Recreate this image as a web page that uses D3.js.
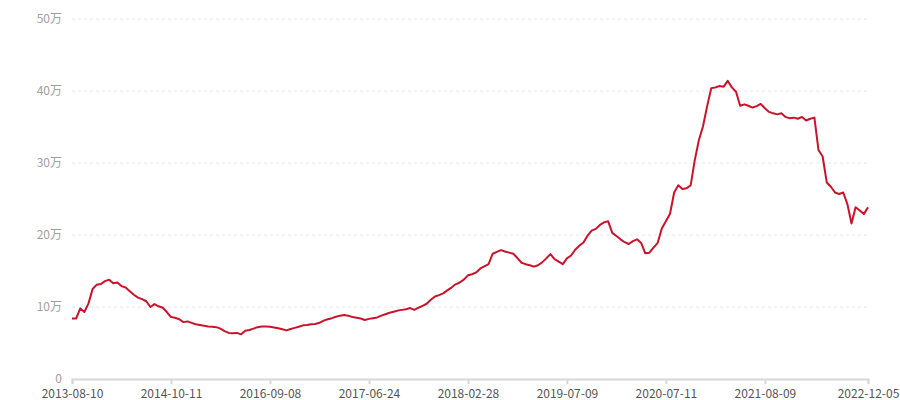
<!DOCTYPE html>
<meta charset="utf-8">
<style>
body { margin: 0; background: #fff; }
svg text { font-family: "Microsoft YaHei", "Noto Sans CJK SC", sans-serif; font-size: 12px; }
.grid line { stroke: #e6e6e6; stroke-dasharray: 3,3; }
</style>
<body>
<div id="chart"></div>
<script src="https://d3js.org/d3.v7.min.js"></script>
<script>
// values in units of 万
var values = [
  8.4, 8.4, 9.8, 9.3, 10.5, 12.5, 13.1, 13.2, 13.6, 13.8,
  13.3, 13.4, 12.9, 12.7, 12.2, 11.7, 11.3, 11.1, 10.8, 10.0,
  10.4, 10.1, 9.9, 9.3, 8.6, 8.5, 8.3, 7.9, 8.0, 7.8,
  7.6, 7.5, 7.4, 7.3, 7.25, 7.2, 7.0, 6.65, 6.4, 6.35,
  6.4, 6.2, 6.7, 6.8, 7.0, 7.2, 7.3, 7.3, 7.25, 7.15,
  7.05, 6.9, 6.75, 6.95, 7.1, 7.25, 7.45, 7.5, 7.6, 7.65,
  7.8, 8.1, 8.3, 8.45, 8.65, 8.8, 8.9, 8.8, 8.6, 8.5,
  8.4, 8.2, 8.35, 8.45, 8.55, 8.8, 9.0, 9.2, 9.35, 9.5,
  9.6, 9.7, 9.85, 9.6, 9.9, 10.15, 10.45, 11.0, 11.45, 11.65,
  11.9, 12.3, 12.7, 13.15, 13.4, 13.8, 14.4, 14.55, 14.8, 15.35,
  15.65, 15.95, 17.4, 17.65, 17.9, 17.7, 17.55, 17.4, 16.8, 16.15,
  15.95, 15.8, 15.6, 15.8, 16.2, 16.75, 17.35, 16.65, 16.3, 15.95,
  16.75, 17.15, 17.95, 18.5, 18.95, 19.9, 20.6, 20.85, 21.4, 21.75,
  21.9, 20.3, 19.85, 19.4, 19.0, 18.75, 19.15, 19.4, 18.9, 17.45,
  17.55, 18.25, 18.9, 20.9, 21.9, 22.95, 25.9, 26.9, 26.4, 26.5,
  26.9, 30.4, 33.2, 35.1, 37.9, 40.4, 40.5, 40.7, 40.6, 41.4,
  40.5, 39.9, 37.95, 38.15, 37.95, 37.7, 37.9, 38.2, 37.6, 37.1,
  36.9, 36.75, 36.9, 36.4, 36.2, 36.3, 36.15, 36.4, 35.9, 36.15,
  36.3, 31.8, 30.9, 27.3, 26.7, 25.9, 25.7, 25.9, 24.3, 21.6,
  23.85, 23.4, 22.9, 23.85
];
var tickIndex = [0, 24, 48, 72, 96, 120, 144, 168, 193];
var tickLabels = ["2013-08-10", "2014-10-11", "2016-09-08", "2017-06-24", "2018-02-28",
                  "2019-07-09", "2020-07-11", "2021-08-09", "2022-12-05"];
var yTicks = [0, 10, 20, 30, 40, 50];

var w = 900, h = 400,
    margin = {top: 19, right: 32, bottom: 21, left: 72};

var svg = d3.select("#chart").append("svg")
    .attr("width", w)
    .attr("height", h);

var x = d3.scalePoint()
    .domain(d3.range(values.length))
    .range([margin.left, w - margin.right]);

var y = d3.scaleLinear()
    .domain([0, 50])
    .range([h - margin.bottom, margin.top]);

// grid
svg.append("g")
    .attr("class", "grid")
  .selectAll("line")
    .data(yTicks.filter(function(d) { return d > 0; }))
  .enter().append("line")
    .attr("x1", margin.left)
    .attr("x2", w - margin.right)
    .attr("y1", function(d) { return y(d); })
    .attr("y2", function(d) { return y(d); });

// y axis labels
var yAxis = svg.append("g")
    .attr("transform", "translate(" + margin.left + ",0)")
    .call(d3.axisLeft(y).tickValues(yTicks).tickSize(0).tickPadding(10)
      .tickFormat(function(d) { return d === 0 ? "0" : d + "万"; }));
yAxis.select(".domain").remove();
yAxis.selectAll("text").attr("fill", "#a0a0a0");

// x axis
var xAxis = svg.append("g")
    .attr("transform", "translate(0," + y(0) + ")")
    .call(d3.axisBottom(x).tickValues(tickIndex).tickSize(5).tickPadding(5)
      .tickFormat(function(d, i) { return tickLabels[i]; }));
xAxis.select(".domain").attr("stroke", "#d8d8d8").attr("stroke-width", 2);
xAxis.selectAll(".tick line").attr("stroke", "#d8d8d8").attr("stroke-width", 2);
xAxis.selectAll("text").attr("fill", "#555");

// line
var line = d3.line()
    .x(function(d, i) { return x(i); })
    .y(function(d) { return y(d); });

svg.append("path")
    .datum(values)
    .attr("fill", "none")
    .attr("stroke", "#c8142b")
    .attr("stroke-width", 2)
    .attr("stroke-linejoin", "round")
    .attr("d", line);
</script>
</body>
